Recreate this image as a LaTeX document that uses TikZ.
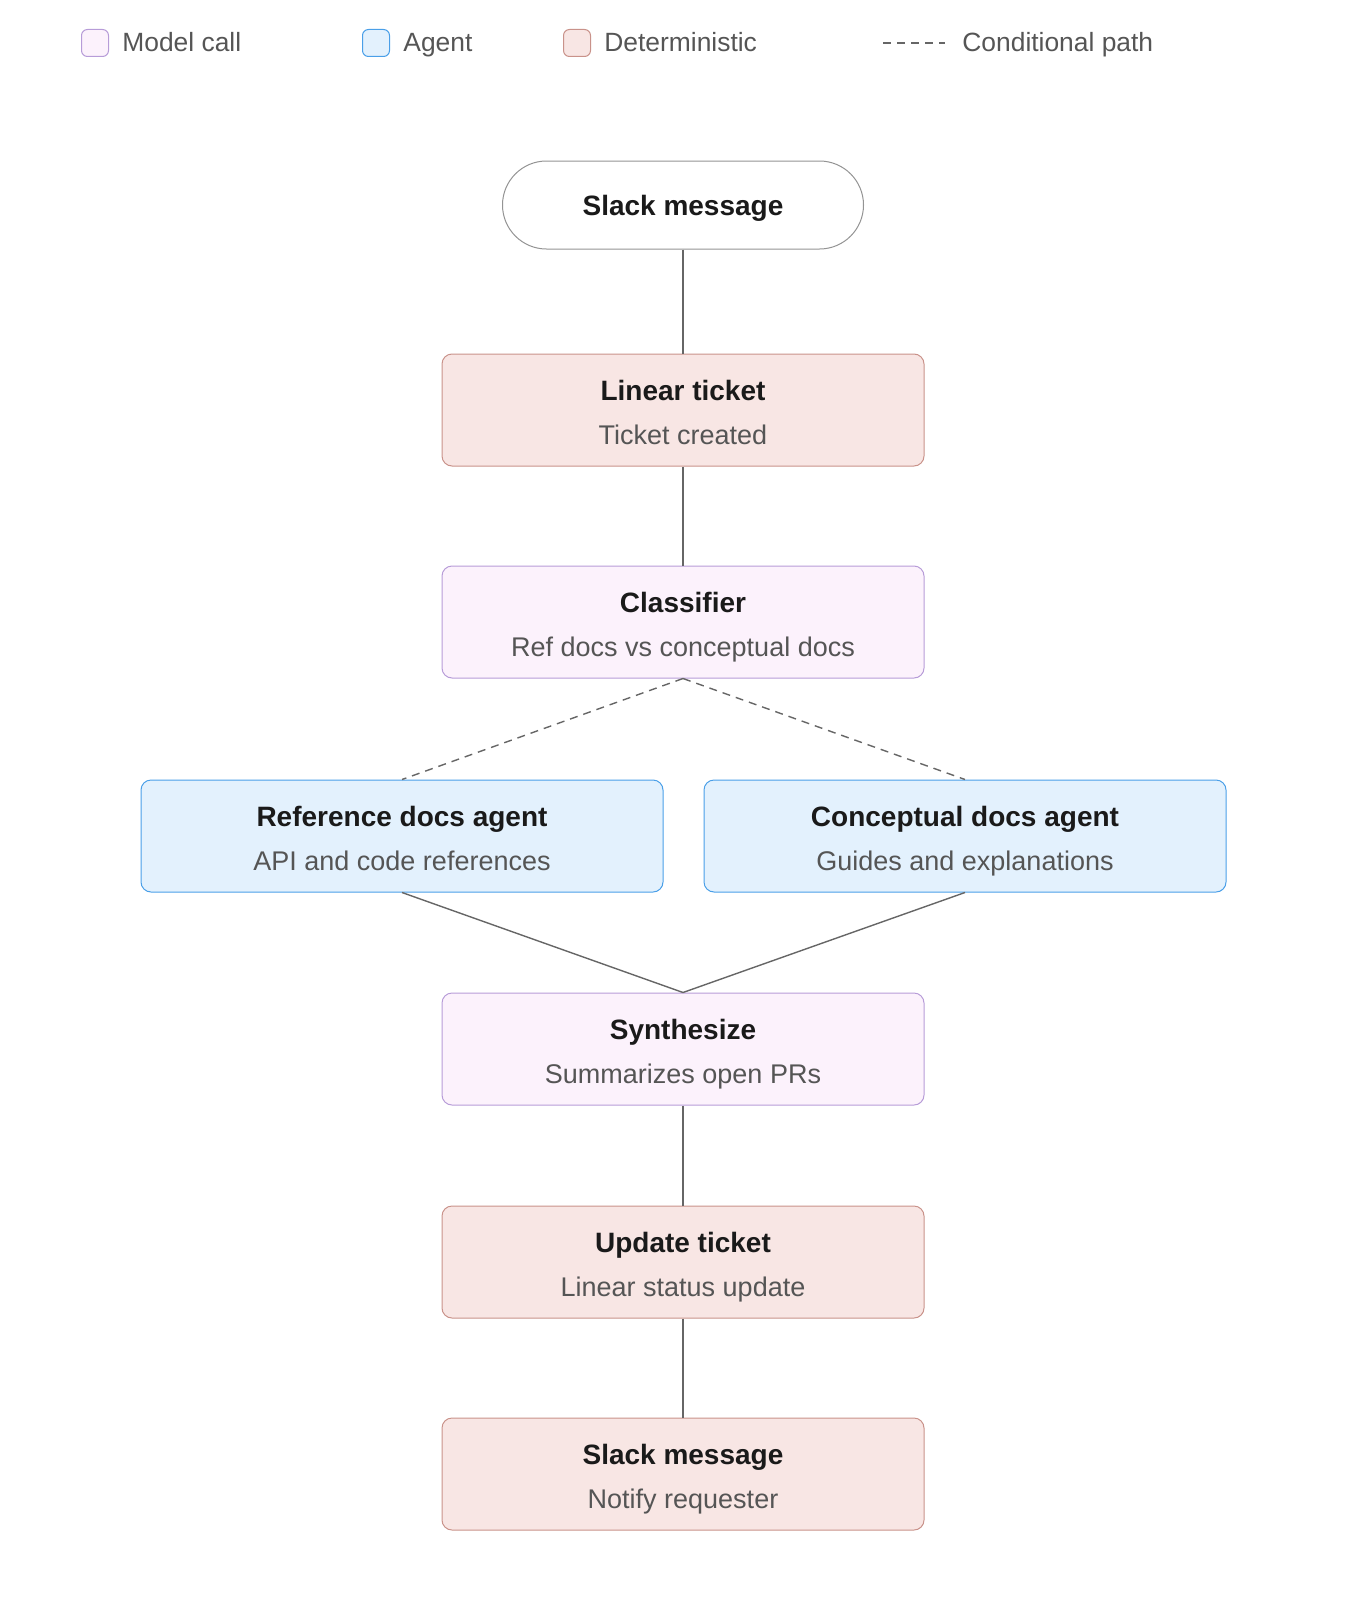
\documentclass[tikz,border=0pt]{standalone}
\usepackage{fontspec}
\setmainfont{Liberation Sans}
\definecolor{flowmodelfill}{RGB}{252,242,252}
\definecolor{flowmodeldraw}{RGB}{183,156,216}
\definecolor{flowagentfill}{RGB}{227,241,253}
\definecolor{flowagentdraw}{RGB}{74,159,232}
\definecolor{flowdetfill}{RGB}{248,230,228}
\definecolor{flowdetdraw}{RGB}{201,146,138}
\definecolor{flowline}{RGB}{102,102,102}
\definecolor{flowtext}{RGB}{26,26,26}
\definecolor{flowsub}{RGB}{85,85,85}
\usetikzlibrary{positioning}
\tikzset{
  stepbox/.style={rectangle, rounded corners=5pt, draw=#1draw, line width=0.5pt,
                  fill=#1fill, minimum width=241pt, minimum height=56pt,
                  align=center, inner sep=0pt},
  startbox/.style={rectangle, rounded corners=22pt, draw=flowline!70, line width=0.5pt,
                   fill=white, minimum width=180.5pt, minimum height=44pt,
                   font=\fontsize{14}{17}\selectfont\bfseries, text=flowtext,
                   text height=13pt, text depth=3pt},
  link/.style={draw=flowline, line width=0.7pt},
  condlink/.style={link, dash pattern=on 4pt off 3pt},
  legendbox/.style={rectangle, rounded corners=3pt, draw=#1draw, line width=0.5pt,
                    fill=#1fill, minimum size=13.5pt, inner sep=0pt},
  legendtext/.style={anchor=west, font=\fontsize{13.2}{15}\selectfont, text=flowsub,
                     inner sep=0pt, text height=11.5pt, text depth=2.8pt},
}
\newcommand{\stepname}[2]{{\fontsize{14}{17}\selectfont\bfseries\color{flowtext}\rule[-5.1pt]{0pt}{23pt}#1}\\[4pt]%
  {\fontsize{13.5}{17}\selectfont\color{flowsub}\strut#2}}

\begin{document}
\begin{tikzpicture}[x=0.5pt, y=-0.5pt]
  \useasboundingbox (0,0) rectangle (1367,1600);
  % legend
  \foreach \x/\kind/\lbl in {95/flowmodel/Model call, 376/flowagent/Agent, 577/flowdet/Deterministic}{
    \node[legendbox=\kind] (key-\kind) at (\x,43) {};
    \node[legendtext, right=6.5pt of key-\kind] {\lbl};
  }
  \coordinate (key-a) at (883,43);
  \coordinate (key-b) at (945,43);
  \draw[condlink, line width=0.6pt] (key-a) -- (key-b);
  \node[legendtext] (key-cond) at (962,43) {Conditional path};

  % steps
  \node[startbox] (start) at (683,205) {Slack message};
  \node[stepbox=flowdet] (ticket) at (683,410) {\stepname{Linear ticket}{Ticket created}};
  \node[stepbox=flowmodel] (classify) at (683,622) {\stepname{Classifier}{Ref docs vs conceptual docs}};
  \node[stepbox=flowagent, minimum width=261pt] (refagent) at (402,836) {\stepname{Reference docs agent}{API and code references}};
  \node[stepbox=flowagent, minimum width=261pt] (conagent) at (965,836) {\stepname{Conceptual docs agent}{Guides and explanations}};
  \node[stepbox=flowmodel] (synth) at (683,1049) {\stepname{Synthesize}{Summarizes open PRs}};
  \node[stepbox=flowdet] (update) at (683,1262) {\stepname{Update ticket}{Linear status update}};
  \node[stepbox=flowdet] (notify) at (683,1474) {\stepname{Slack message}{Notify requester}};

  % connectors
  \draw[link] (start) -- (ticket);
  \draw[link] (ticket) -- (classify);
  \draw[condlink] (classify.south) -- (refagent.north);
  \draw[condlink] (classify.south) -- (conagent.north);
  \draw[link] (refagent.south) -- (synth.north);
  \draw[link] (conagent.south) -- (synth.north);
  \draw[link] (synth) -- (update);
  \draw[link] (update) -- (notify);
\end{tikzpicture}
\end{document}
